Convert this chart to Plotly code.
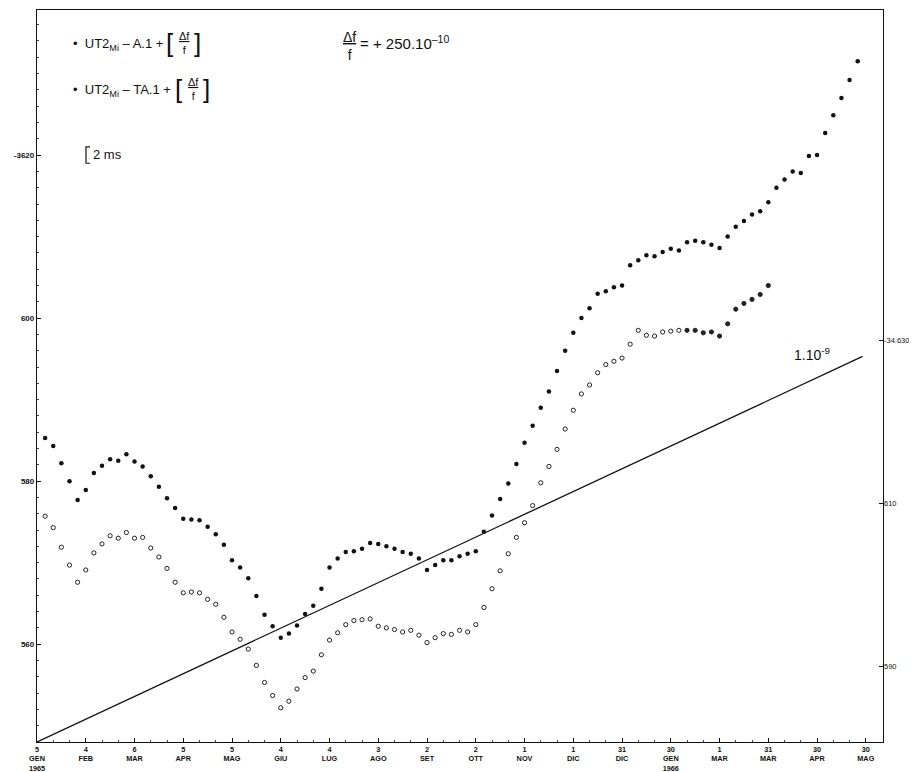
import pandas as pd
import plotly.graph_objects as go

FONT = "Liberation Sans, Arial, sans-serif"

# --- data (values in ms, left-axis units) ---
start_date = "1965-01-10"   # first point; samples every 5 days
ut2_a1 = [585.3, 584.3, 582.2, 580.0, 577.7, 578.9, 581.0, 581.9, 582.7, 582.5,
          583.3, 582.4, 581.8, 580.6, 579.3, 577.9, 576.7, 575.4, 575.3, 575.2,
          574.4, 573.5, 572.2, 570.3, 569.4, 568.1, 565.9, 563.6, 562.2, 560.8,
          561.3, 562.3, 563.7, 564.7, 566.8, 569.4, 570.5, 571.3, 571.4, 571.7,
          572.4, 572.3, 572.0, 571.7, 571.3, 571.1, 570.5, 569.1, 569.7, 570.3,
          570.3, 570.8, 571.1, 571.4, 573.8, 575.8, 577.8, 579.7, 582.1, 584.7,
          586.8, 589.0, 591.0, 593.5, 596.0, 598.2, 600.0, 601.2, 603.0, 603.3,
          603.8, 604.0, 606.5, 607.1, 607.7, 607.6, 608.1, 608.5, 608.3, 609.3,
          609.5, 609.3, 609.0, 608.6, 610.0, 611.2, 611.9, 612.7, 613.1, 614.2,
          616.0, 617.0, 618.0, 617.8, 619.9, 620.0, 622.7, 624.9, 627.0, 629.2,
          631.5]
ut2_ta1 = [575.7, 574.3, 571.9, 569.7, 567.6, 569.1, 571.2, 572.3, 573.3, 573.0,
           573.7, 573.0, 573.1, 571.8, 570.7, 569.3, 567.6, 566.3, 566.4, 566.3,
           565.5, 564.9, 563.3, 561.5, 560.6, 559.4, 557.4, 555.3, 553.7, 552.2,
           553.0, 554.5, 555.9, 556.7, 558.7, 560.5, 561.4, 562.4, 562.9, 563.0,
           563.1, 562.2, 562.0, 561.8, 561.5, 561.7, 561.1, 560.2, 560.8, 561.3,
           561.2, 561.7, 561.5, 562.4, 564.5, 566.8, 569.0, 571.1, 573.1, 574.9,
           577.0, 579.8, 581.8, 583.9, 586.4, 588.7, 590.7, 591.8, 593.3, 594.3,
           594.7, 595.1, 596.8, 598.5, 597.9, 597.8, 598.3, 598.4, 598.5, 598.5,
           598.5, 598.2, 598.3, 597.8, 599.3, 601.1, 601.8, 602.3, 602.9, 604.0]
ta1_open_count = 79          # later TA.1 points are printed as filled dots

# reference slope line 1.10^-9 (start, end)
line_x = ["1965-01-05", "1966-05-28"]
line_y = [548.0, 595.3]

tick_dates = ["1965-01-05", "1965-02-04", "1965-03-06", "1965-04-05", "1965-05-05",
              "1965-06-04", "1965-07-04", "1965-08-03", "1965-09-02", "1965-10-02",
              "1965-11-01", "1965-12-01", "1965-12-31", "1966-01-30", "1966-03-01",
              "1966-03-31", "1966-04-30", "1966-05-30"]
tick_text = ["5<br>GEN<br>1965", "4<br>FEB", "6<br>MAR", "5<br>APR", "5<br>MAG",
             "4<br>GIU", "4<br>LUG", "3<br>AGO", "2<br>SET", "2<br>OTT", "1<br>NOV",
             "1<br>DIC", "31<br>DIC", "30<br>GEN<br>1966", "1<br>MAR", "31<br>MAR",
             "30<br>APR", "30<br>MAG"]
left_vals = [560, 580, 600, 620]
left_text = ["560", "580", "600", "-3620"]
right_vals = [590, 610, 630]
right_text = ["590", "610", "-34.630"]

x_a1 = pd.date_range(start_date, periods=len(ut2_a1), freq="5D")
x_ta1 = pd.date_range(start_date, periods=len(ut2_ta1), freq="5D")
ta1_symbols = ["circle-open"] * ta1_open_count + ["circle"] * (len(ut2_ta1) - ta1_open_count)

fig = go.Figure()
fig.add_trace(go.Scatter(x=line_x, y=line_y, mode="lines",
                         line=dict(color="#111", width=1.3), showlegend=False))
fig.add_trace(go.Scatter(x=x_a1, y=ut2_a1, mode="markers",
                         marker=dict(color="#111", size=4.5, symbol="circle"),
                         showlegend=False))
fig.add_trace(go.Scatter(x=x_ta1, y=ut2_ta1, mode="markers",
                         marker=dict(color="#222", size=4.2, symbol=ta1_symbols,
                                     line=dict(width=1, color="#222")),
                         showlegend=False))
fig.add_trace(go.Scatter(x=[None], y=[None], yaxis="y2", showlegend=False,
                         hoverinfo="skip"))

# page offset from the default body margin of the html page
OFF = 8
W, H = 917 - OFF, 772 - OFF
PL, PT, PR, PB = 37, 10, 883, 742          # plot box in page pixels
L, T = PL - OFF, PT - OFF
R, B = W - (PR - OFF), H - (PB - OFF)
PW, PH = PR - PL, PB - PT


def pp(px, py):
    return (px - PL) / PW, (PB - py) / PH


anns = []


def add(text, px, py, size=12, xanchor="left", yanchor="middle", weight="normal"):
    x, y = pp(px, py)
    anns.append(dict(text=text, x=x, y=y, xref="paper", yref="paper", showarrow=False,
                     xanchor=xanchor, yanchor=yanchor,
                     font=dict(size=size, family=FONT, color="#111", weight=weight)))


frac = "<u>Δf</u><br>f"
add("•  UT2<sub>Mi</sub> – A.1 +", 71, 44, 13)
add("[", 176, 43, 26, xanchor="right")
add(frac, 184, 43, 11, xanchor="center")
add("]", 192, 43, 26, xanchor="left")
add("•  UT2<sub>Mi</sub> – TA.1 +", 71, 90, 13)
add("[", 185, 89, 26, xanchor="right")
add(frac, 193, 89, 11, xanchor="center")
add("]", 201, 89, 26, xanchor="left")
add(frac, 349, 46, 14, xanchor="center")
add("= + 250.10<sup>–10</sup>", 358, 42, 15)
add("2 ms", 91, 154, 13)
add("1.10<sup>-9</sup>", 812, 354, 14, xanchor="center")

bx, _ = pp(86, 0)
bx2, _ = pp(90, 0)
shapes = [dict(type="path", xref="paper", yref="y",
               path=f"M {bx2} 621 L {bx} 621 L {bx} 619 L {bx2} 619",
               line=dict(color="#111", width=1.2))]

fig.update_layout(
    width=W, height=H,
    margin=dict(l=L, r=R, t=T, b=B, autoexpand=False),
    paper_bgcolor="white", plot_bgcolor="white",
    font=dict(family=FONT, color="#111"),
    annotations=anns, shapes=shapes,
    xaxis=dict(type="date", range=["1965-01-05", "1966-06-09 14:00"],
               tickmode="array", tickvals=tick_dates, ticktext=tick_text,
               tickangle=0, showgrid=False, zeroline=False,
               showline=True, linecolor="#111", linewidth=1.3, mirror=True,
               ticks="inside", ticklen=4, tickcolor="#111", ticklabelstandoff=0,
               tickfont=dict(size=7.3, family=FONT, weight="bold", color="#111"),
               minor=dict(dtick=10 * 86400000, tick0="1965-01-05", ticks="inside",
                          ticklen=2, tickcolor="#444", showgrid=False)),
    yaxis=dict(range=[548.0, 637.8], tickmode="array", tickvals=left_vals,
               ticktext=left_text, showgrid=False, zeroline=False,
               showline=True, linecolor="#111", linewidth=1.3, mirror=True,
               ticks="inside", ticklen=4, tickcolor="#111",
               tickfont=dict(size=8, family=FONT, weight="bold", color="#111"),
               minor=dict(dtick=2, tick0=548, ticks="inside", ticklen=2,
                          tickcolor="#444", showgrid=False)),
    yaxis2=dict(overlaying="y", side="right", range=[580.7, 670.5],
                tickmode="array", tickvals=right_vals, ticktext=right_text,
                showgrid=False, zeroline=False, showline=False,
                ticks="inside", ticklen=4, tickcolor="#111", ticklabelstandoff=0,
                tickfont=dict(size=7.5, family=FONT, color="#111")),
)

fig.write_html("out.html")
